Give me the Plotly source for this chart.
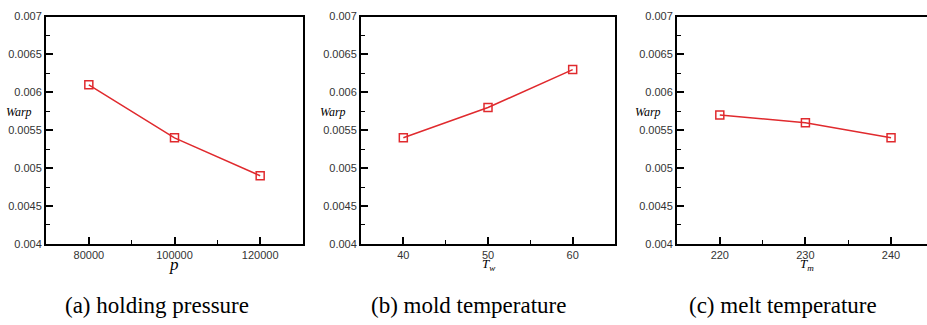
import plotly.graph_objects as go

# ---- data ----
pressure = [80000, 100000, 120000]
warp_pressure = [0.0061, 0.0054, 0.0049]

mold_temp = [40, 50, 60]
warp_mold = [0.0054, 0.0058, 0.0063]

melt_temp = [220, 230, 240]
warp_melt = [0.0057, 0.0056, 0.0054]

y_tickvals = [0.004, 0.0045, 0.005, 0.0055, 0.006, 0.0065, 0.007]
y_ticktext = ["0.004", "0.0045", "0.005", "0.0055", "0.006", "0.0065", "0.007"]
x_ticktext_a = ["80000", "100000", "120000"]
x_ticktext_b = ["40", "50", "60"]
x_ticktext_c = ["220", "230", "240"]

captions = ["(a) holding pressure", "(b) mold temperature", "(c) melt temperature"]
x_titles = ["<i>p</i>", "<i>T</i><sub><i>w</i></sub>", "<i>T</i><sub><i>m</i></sub>"]

W, H = 927, 325
RED = "#e02a2e"
SERIF = "Liberation Serif, Times New Roman, serif"
SANS = "Liberation Sans, Arial, sans-serif"

def px_x(p):
    return p / W

def px_y(p):
    return 1 - p / H

fig = go.Figure()

panels = [
    dict(x=pressure, y=warp_pressure, xr=[70000, 130000], mdt=10000,
         tt=x_ticktext_a, dom=[46, 303], mirror_y=True),
    dict(x=mold_temp, y=warp_mold, xr=[35, 65], mdt=5,
         tt=x_ticktext_b, dom=[361, 615], mirror_y=True),
    dict(x=melt_temp, y=warp_melt, xr=[215, 244.2], mdt=5,
         tt=x_ticktext_c, dom=[677, 927], mirror_y=False),
]

for i, p in enumerate(panels, start=1):
    xa = "x" if i == 1 else f"x{i}"
    ya = "y" if i == 1 else f"y{i}"
    fig.add_trace(go.Scatter(
        x=p["x"], y=p["y"], xaxis=xa, yaxis=ya, mode="lines+markers",
        line=dict(color=RED, width=1.5),
        marker=dict(symbol="square-open", size=8, color=RED, line=dict(width=1.5, color=RED)),
        showlegend=False, hoverinfo="skip"))
    xkey = "xaxis" if i == 1 else f"xaxis{i}"
    ykey = "yaxis" if i == 1 else f"yaxis{i}"
    fig.layout[xkey] = dict(
        domain=[px_x(p["dom"][0]), px_x(p["dom"][1])],
        range=p["xr"], anchor=ya,
        tickvals=p["x"], ticktext=p["tt"],
        ticks="inside", ticklen=7, tickwidth=1.5, tickcolor="black",
        minor=dict(ticks="inside", ticklen=4, tickwidth=1, tickcolor="black", dtick=p["mdt"], tick0=p["x"][0]),
        showline=True, linecolor="black", linewidth=2, mirror=True,
        showgrid=False, zeroline=False,
        tickfont=dict(family=SANS, size=11, color="#333"),
    )
    fig.layout[ykey] = dict(
        domain=[px_y(247), px_y(11)],
        range=[0.004, 0.007], anchor=xa,
        tickvals=y_tickvals, ticktext=y_ticktext,
        ticks="inside", ticklen=7, tickwidth=1.5, tickcolor="black",
        minor=dict(ticks="inside", ticklen=4, tickwidth=1, tickcolor="black", dtick=0.00025, tick0=0.004),
        showline=True, linecolor="black", linewidth=2, mirror=p["mirror_y"],
        showgrid=False, zeroline=False,
        tickfont=dict(family=SANS, size=11, color="#333"),
    )

annotations = []
warp_x = [19, 333, 648]
xt_x = [174, 488, 807]
xt_size = [17, 13, 13]
cap_x = [157, 468, 783]
for j in range(3):
    annotations.append(dict(text="<i>Warp</i>", x=px_x(warp_x[j]), y=px_y(110), xref="paper", yref="paper",
                            showarrow=False, xanchor="center", yanchor="middle",
                            font=dict(family=SERIF, size=12, color="black")))
    annotations.append(dict(text=x_titles[j], x=px_x(xt_x[j]), y=px_y(268), xref="paper", yref="paper",
                            showarrow=False, xanchor="center", yanchor="middle",
                            font=dict(family=SERIF, size=xt_size[j], color="black")))
    annotations.append(dict(text=captions[j], x=px_x(cap_x[j]), y=px_y(311), xref="paper", yref="paper",
                            showarrow=False, xanchor="center", yanchor="middle",
                            font=dict(family=SERIF, size=23, color="black")))

fig.update_layout(width=W, height=H, margin=dict(l=0, r=0, t=0, b=0),
                  paper_bgcolor="white", plot_bgcolor="white", annotations=annotations)

fig.write_html("out.html")
